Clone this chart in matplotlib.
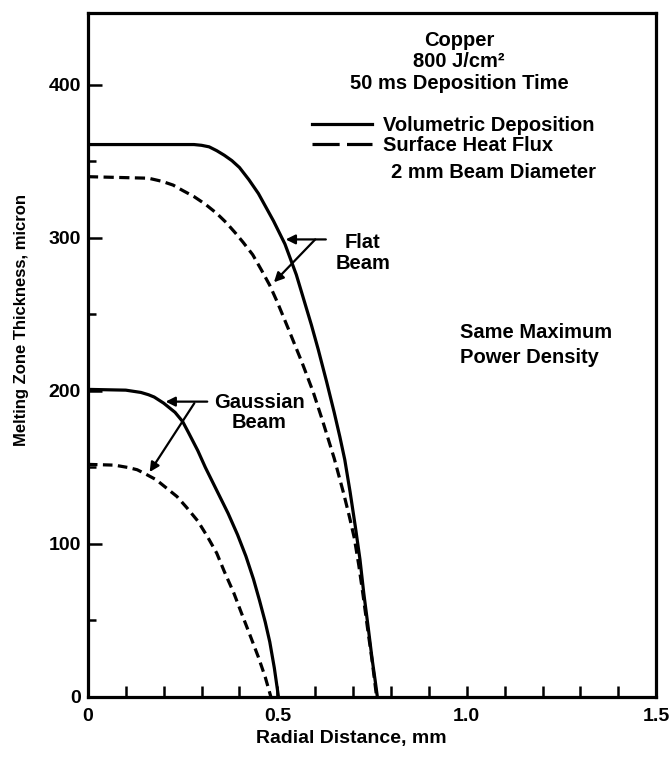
import numpy as np
import matplotlib
matplotlib.use('Agg')
import matplotlib.pyplot as plt
from matplotlib.lines import Line2D

## curve values (radial distance in mm, thickness in micron)
flat_vol_x = [0.0, 0.28, 0.30, 0.32, 0.34, 0.36, 0.38, 0.40, 0.425, 0.45, 0.47, 0.49, 0.52, 0.55, 0.567,
              0.59, 0.608, 0.63, 0.65, 0.665, 0.678, 0.692, 0.706, 0.718, 0.728, 0.74, 0.75, 0.758, 0.764]
flat_vol_y = [361, 361, 360.5, 359.5, 357, 354, 350.5, 346, 338, 329, 320, 311, 296, 276, 262,
              243, 227, 206, 186, 170, 155, 134, 111, 90, 68, 45, 25, 11, 0]

flat_surf_x = [0.0, 0.16, 0.195, 0.225, 0.25, 0.28, 0.31, 0.34, 0.365, 0.39, 0.41, 0.435, 0.458, 0.48,
               0.50, 0.53, 0.566, 0.595, 0.62, 0.65, 0.675, 0.69, 0.703, 0.715, 0.726, 0.738, 0.75, 0.762]
flat_surf_y = [340, 339, 337, 334.5, 331, 327, 322, 316, 310, 303, 297, 289, 279, 269,
               258, 240, 218, 199, 180, 156, 133, 118, 104, 86, 67, 45, 24, 0]

gauss_vol_x = [0.0, 0.1, 0.14, 0.16, 0.175, 0.2, 0.23, 0.25, 0.265, 0.29, 0.31, 0.34, 0.37, 0.395,
               0.417, 0.437, 0.453, 0.468, 0.48, 0.492, 0.503]
gauss_vol_y = [201, 200.5, 199, 197.5, 196, 192, 186, 180, 173, 161, 150, 135, 120, 106,
               92, 77, 63, 49, 36, 19, 0]

gauss_surf_x = [0.0, 0.07, 0.105, 0.13, 0.15, 0.18, 0.205, 0.235, 0.26, 0.29, 0.315, 0.34, 0.36,
                0.385, 0.405, 0.43, 0.45, 0.468, 0.483]
gauss_surf_y = [152, 151.5, 150, 148.5, 146, 142, 137, 131, 124, 115, 105, 94, 82,
                68, 55, 39, 26, 13, 0]

x_ticks = [0, 0.5, 1.0, 1.5]
x_ticklabels = ['0', '0.5', '1.0', '1.5']
y_ticks = [0, 100, 200, 300, 400]

plt.rcParams['font.family'] = ['Liberation Sans', 'DejaVu Sans']
plt.rcParams['font.weight'] = 'bold'

fig = plt.figure(figsize=(6.71, 7.57), dpi=100)
ax = fig.add_axes([0.131, 0.0793, 0.847, 0.9036])

lw = 2.3
ax.plot(flat_vol_x, flat_vol_y, color='black', lw=lw, solid_capstyle='butt', solid_joinstyle='round')
ax.plot(flat_surf_x, flat_surf_y, color='black', lw=lw, dashes=(3.2, 1.7))
ax.plot(gauss_vol_x, gauss_vol_y, color='black', lw=lw, solid_capstyle='butt', solid_joinstyle='round')
ax.plot(gauss_surf_x, gauss_surf_y, color='black', lw=lw, dashes=(3.0, 1.7))

ax.set_xlim(0, 1.5)
ax.set_ylim(0, 447)

for s in ax.spines.values():
    s.set_linewidth(2.3)

ax.set_xticks(x_ticks)
ax.set_xticklabels(x_ticklabels)
ax.set_xticks(np.arange(0, 1.51, 0.1), minor=True)
ax.set_yticks(y_ticks)
ax.set_yticks([50, 150, 250, 350], minor=True)
ax.tick_params(axis='x', which='both', direction='in', length=8, width=1.8,
               labelsize=14, pad=8, top=False)
ax.tick_params(axis='y', which='major', direction='in', length=10, width=1.8,
               labelsize=14, pad=5, right=False)
ax.tick_params(axis='y', which='minor', direction='in', length=6, width=1.8, right=False)

ax.set_xlabel('Radial Distance, mm', fontsize=14, fontweight='bold')
ax.xaxis.set_label_coords(0.463, -0.048)
ax.set_ylabel('Melting Zone Thickness, micron', fontsize=12, fontweight='bold')
ax.yaxis.set_label_coords(-0.104, 0.551)

# header text
ax.text(0.98, 429, 'Copper', ha='center', va='center', fontsize=14.5, fontweight='bold')
ax.text(0.98, 415, '800 J/cm²', ha='center', va='center', fontsize=14.5, fontweight='bold')
ax.text(0.98, 401, '50 ms Deposition Time', ha='center', va='center', fontsize=14.5, fontweight='bold')

handles = [Line2D([], [], color='black', lw=lw),
           Line2D([], [], color='black', lw=lw, dashes=(8.5, 2.3))]
ax.legend(handles, ['Volumetric Deposition', 'Surface Heat Flux'],
          loc='center left', bbox_to_anchor=(0.592, 367), bbox_transform=ax.transData,
          frameon=False, fontsize=14.5, handlelength=2.95, handletextpad=0.55,
          labelspacing=0.05, borderpad=0, borderaxespad=0)

ax.text(0.80, 343, '2 mm Beam Diameter', ha='left', va='center', fontsize=14.5, fontweight='bold')
ax.text(0.982, 230, 'Same Maximum\nPower Density', ha='left', va='center',
        fontsize=14.5, fontweight='bold', linespacing=1.35)

# beam labels and arrows
ax.text(0.725, 290, 'Flat\nBeam', ha='center', va='center', fontsize=14.5,
        fontweight='bold', linespacing=1.1)
ax.text(0.452, 186, 'Gaussian\nBeam', ha='center', va='center', fontsize=14.5,
        fontweight='bold', linespacing=1.05)

arrow = dict(arrowstyle='-|>', color='black', lw=1.6, mutation_scale=14,
             shrinkA=0, shrinkB=0)
ax.annotate('', xy=(0.522, 299), xytext=(0.628, 299), arrowprops=arrow)
ax.annotate('', xy=(0.491, 271), xytext=(0.600, 299), arrowprops=arrow)
ax.annotate('', xy=(0.205, 193), xytext=(0.315, 193), arrowprops=arrow)
ax.annotate('', xy=(0.163, 147), xytext=(0.281, 192), arrowprops=arrow)

plt.savefig('out.png', dpi=100)
